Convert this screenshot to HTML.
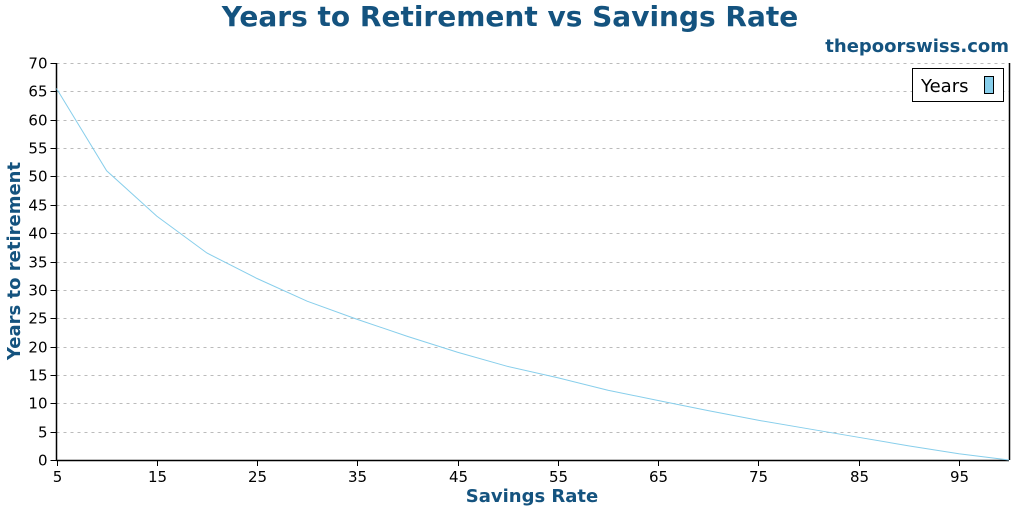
<!DOCTYPE html>
<html><head><meta charset="utf-8"><style>
body{margin:0;background:#fff}
svg text{font-family:"DejaVu Sans","Liberation Sans",sans-serif}
</style></head><body>
<svg id="c" width="1024" height="512">
<text x="510" y="26" text-anchor="middle" font-size="28" font-weight="bold" fill="#14537f">Years to Retirement vs Savings Rate</text>
<text x="1009" y="52" text-anchor="end" font-size="18" font-weight="bold" fill="#14537f">thepoorswiss.com</text>
<text x="532" y="502" text-anchor="middle" font-size="18" font-weight="bold" fill="#14537f">Savings Rate</text>
<text transform="translate(20,261) rotate(-90)" text-anchor="middle" font-size="18" font-weight="bold" fill="#14537f">Years to retirement</text>
<g id="grid"></g><g id="axes"></g><g id="series"></g>
<g>
<rect x="912.5" y="68.5" width="91" height="33" fill="#fff" stroke="#000"/>
<text x="921" y="92" font-size="18" fill="#000">Years</text>
<rect x="984.5" y="76.5" width="9" height="17" fill="#87ceeb" stroke="#000"/>
</g>
</svg>
<script>
const rates=[5,10,15,20,25,30,35,40,45,50,55,60,65,70,75,80,85,90,95,100];
const years=[65.5,51,43,36.5,32,28,24.8,21.8,19,16.5,14.5,12.3,10.5,8.7,7,5.5,4,2.5,1.1,0];
const yTicks=[0,5,10,15,20,25,30,35,40,45,50,55,60,65,70];
const xTicks=[5,15,25,35,45,55,65,75,85,95];
const NS="http://www.w3.org/2000/svg";
const X0=56.5,X1=1009,Y0=460,Y1=63;
const xs=v=>X0+(v-5)/95*(X1-X0);
const ys=v=>Y0-v/70*(Y0-Y1);
function mk(t,a,p){const e=document.createElementNS(NS,t);for(const k in a)e.setAttribute(k,a[k]);p.appendChild(e);return e;}
const grid=document.getElementById('grid'),axes=document.getElementById('axes'),ser=document.getElementById('series');
yTicks.forEach(v=>{
 const y=Math.round(ys(v))+0.5;
 if(v>0){const g=mk('line',{x1:X0,x2:X1,y1:y,y2:y,stroke:'#bbb','stroke-dasharray':'3,4'},grid);
 
 }
 const t=mk('line',{x1:X0-6,x2:X0,y1:y,y2:y,stroke:'#000'},axes);
 
 
 const l=mk('text',{x:X0-9,y:y+5,'text-anchor':'end','font-size':15,fill:'#000'},axes);l.textContent=v;
 
 
});
xTicks.forEach(v=>{
 const x=Math.round(xs(v))+0.5;
 const t=mk('line',{x1:x,x2:x,y1:Y0,y2:Y0+6,stroke:'#000'},axes);
 
 
 const l=mk('text',{x:x,y:Y0+22,'text-anchor':'middle','font-size':15,fill:'#000'},axes);l.textContent=v;
 
 
});
const ya=mk('line',{x1:X0,x2:X0,y1:Y1,y2:Y0,stroke:'#000','stroke-width':1.5},axes);


const xa=mk('line',{x1:X0,x2:X1,y1:Y0+0.5,y2:Y0+0.5,stroke:'#000','stroke-width':1.5},axes);


const ra=mk('line',{x1:X1+0.5,x2:X1+0.5,y1:Y1,y2:Y0,stroke:'#000','stroke-width':1.5},axes);


const pl=mk('polyline',{points:rates.map((r,i)=>xs(r)+','+ys(years[i])).join(' '),fill:'none',stroke:'#87ceeb','stroke-width':1},ser);


</script>
</body></html>
